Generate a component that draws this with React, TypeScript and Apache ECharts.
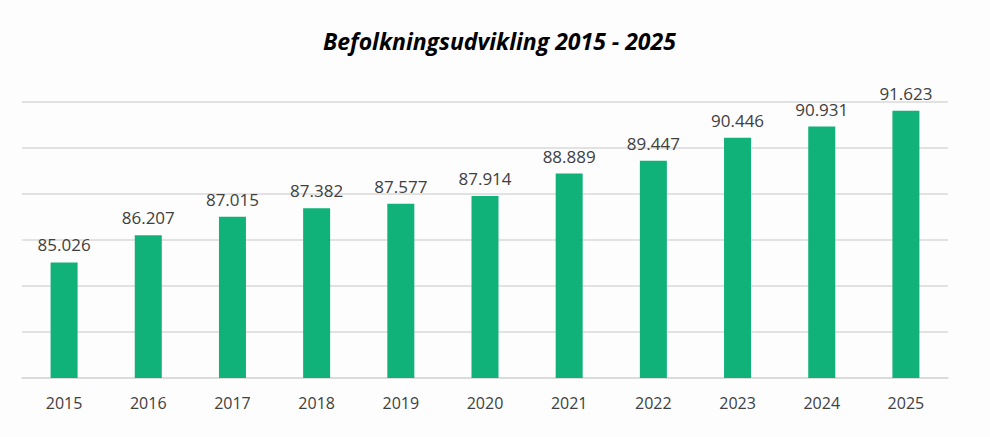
import React, { useEffect, useRef } from "react";
import * as echarts from "echarts";

const title = "Befolkningsudvikling 2015 - 2025";
const years = ["2015", "2016", "2017", "2018", "2019", "2020", "2021", "2022", "2023", "2024", "2025"];
const population = [85026, 86207, 87015, 87382, 87577, 87914, 88889, 89447, 90446, 90931, 91623];
const yMin = 80000;
const yMax = 92000;
const yInterval = 2000;

const fmt = (v: number) => String(v).replace(/\B(?=(\d{3})+(?!\d))/g, ".");

export default function App() {
  const ref = useRef<HTMLDivElement>(null);
  useEffect(() => {
    if (!ref.current) return;
    const chart = echarts.init(ref.current, undefined, { renderer: "svg" });
    chart.setOption({
      animation: false,
      backgroundColor: "#fdfdfd",
      title: {
        text: title,
        left: 318,
        top: 24,
        textStyle: {
          fontFamily: "Open Sans",
          fontStyle: "italic",
          fontWeight: "bold",
          fontSize: 23,
          color: "#000000",
        },
      },
      grid: { left: 22, right: 42, top: 102, bottom: 59, containLabel: false },
      xAxis: {
        type: "category",
        data: years,
        axisLine: { show: true, lineStyle: { color: "#d9d9d9", width: 1.5 } },
        axisTick: { show: false },
        axisLabel: { color: "#404040", fontSize: 16, fontFamily: "Open Sans", margin: 17 },
      },
      yAxis: {
        type: "value",
        min: yMin,
        max: yMax,
        interval: yInterval,
        axisLabel: { show: false },
        axisLine: { show: false },
        axisTick: { show: false },
        splitLine: { lineStyle: { color: "#d9d9d9", width: 1.5 } },
      },
      series: [
        {
          type: "bar",
          data: population,
          barWidth: 27,
          itemStyle: { color: "#10b27a" },
          label: {
            show: true,
            position: "top",
            distance: 9,
            color: "#404040",
            fontSize: 17,
            fontFamily: "Open Sans",
            formatter: (p: any) => fmt(p.value),
          },
        },
      ],
    });
    return () => chart.dispose();
  }, []);
  return (
    <div
      ref={ref}
      style={{ position: "fixed", left: 0, top: 0, width: 990, height: 437 }}
    />
  );
}
